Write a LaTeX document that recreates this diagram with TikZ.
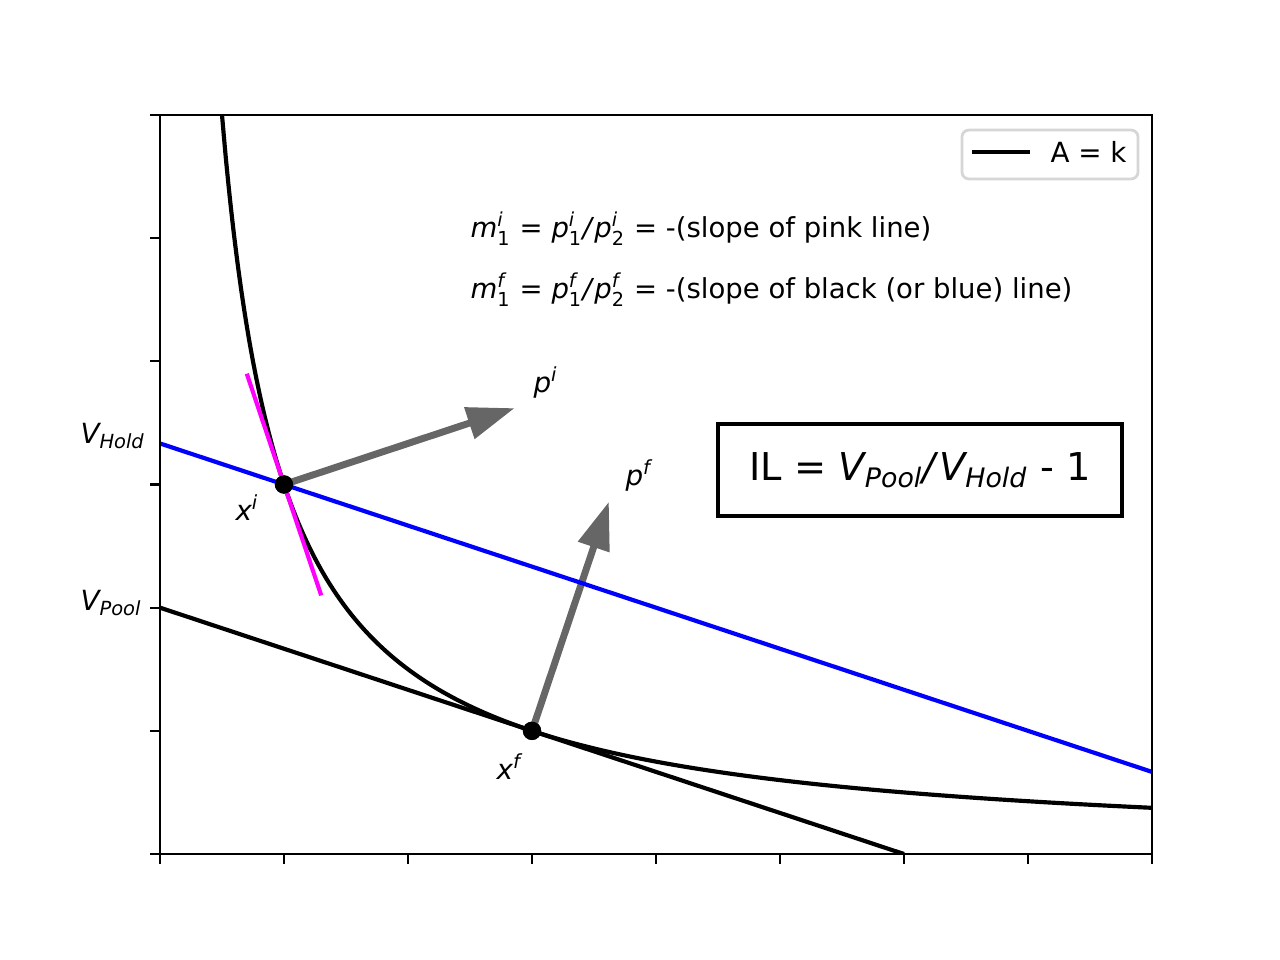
\documentclass[tikz,border=0pt]{standalone}
\usepackage{amsmath}
\usepackage{fontspec}
\setmainfont{DejaVu Sans}
\usetikzlibrary{arrows.meta}
\definecolor{arrowgray}{HTML}{666666}
\definecolor{pinkline}{HTML}{FF00FF}
\definecolor{legendedge}{HTML}{D6D6D6}
\newcommand\symb[3]{$\textit{#1}^{\textit{#2}}_{\text{#3}}$}
\newcommand\vsub[1]{$\textit{V}_{\textit{#1}}$}
\tikzset{
  spine/.style={line width=0.8pt, line cap=rect},
  tickmark/.style={line width=0.8pt},
  curveline/.style={line width=1.5pt, black},
  bluel/.style={line width=1.5pt, blue},
  blackl/.style={line width=1.5pt, black},
  pinkl/.style={line width=1.5pt, pinkline},
  pointdot/.style={circle, fill=black, inner sep=0pt, minimum size=6.6pt},
  parrow/.style={line width=2.5pt, arrowgray, -{Triangle[length=17.2pt,width=11.4pt]}},
  lbl/.style={anchor=base west, inner sep=0pt, font=\fontsize{10}{12}\selectfont},
  eqlbl/.style={anchor=base west, inner sep=0pt, font=\fontsize{9.9}{12}\selectfont},
}
\begin{document}
\begin{tikzpicture}[x=0.36pt, y=-0.36pt]
\useasboundingbox (0,0) rectangle (1280,960);
% data scope
\begin{scope}[shift={(160,854)}, x=44.64pt, y=44.34pt]
  \coordinate (pitip) at (2.86,3.62);
  \coordinate (pftip) at (3.62,2.86);
  \node[pointdot] (xi) at (1,3) {};
  \node[pointdot] (xf) at (3,1) {};
  \draw[parrow] (xi.center) -- (pitip);
  \draw[parrow] (xf.center) -- (pftip);
  \begin{scope}
    \clip (0,0) rectangle (8,6);
    \draw[curveline] plot[domain=0.5:8, samples=240, smooth] (\x, {3/\x});
    \coordinate (pk1) at (0.7,3.9);
    \coordinate (pk2) at (1.3,2.1);
    \draw[pinkl] (pk1) -- (pk2);
    \coordinate (bl1) at (0,10/3);
    \coordinate (bl2) at (8,2/3);
    \draw[bluel] (bl1) -- (bl2);
    \coordinate (tg1) at (0,2);
    \coordinate (tg2) at (6,0);
    \draw[blackl] (tg1) -- (tg2);
  \end{scope}
  \node[pointdot] at (xi) {};
  \node[pointdot] at (xf) {};
\end{scope}
% axes
\draw[spine] (160,115) rectangle (1152,854);
\foreach \i in {0,...,8} {
  \draw[tickmark] ({160+124*\i},854) -- ({160+124*\i},863.7);
}
\foreach \j in {0,...,6} {
  \draw[tickmark] (160,{854-123.1667*\j}) -- (150.3,{854-123.1667*\j});
}
% labels
\node[eqlbl] (eqi) at (470,237) {\symb{m}{i}{1} = \symb{p}{i}{1}\textit{/}\symb{p}{i}{2} = -(slope of pink line)};
\node[eqlbl] (eqf) at (470,298) {\symb{m}{f}{1} = \symb{p}{f}{1}\textit{/}\symb{p}{f}{2} = -(slope of black (or blue) line)};
\node[lbl] (vhold) at (80,443) {\vsub{Hold}};
\node[lbl] (vpool) at (80,610) {\vsub{Pool}};
\node[lbl] (lxi) at (235,520) {$\textit{x}^{\textit{i}}$};
\node[lbl] (lxf) at (496,779) {$\textit{x}^{\textit{f}}$};
\node[lbl] (lpi) at (533,392) {$\textit{p}^{\textit{i}}$};
\node[lbl] (lpf) at (625,485) {$\textit{p}^{\textit{f}}$};
% IL box
\node[draw=black, line width=1.2pt, fill=white, minimum width=145.4pt, minimum height=33.1pt, inner sep=0pt,
      font=\fontsize{13.8}{17}\selectfont] (ilbox) at (920,470)
  {IL = \vsub{Pool}\textit{/}\vsub{Hold} - 1};
% legend
\node[draw=legendedge, line width=1pt, fill=white, rounded corners=2.5pt, minimum width=63.4pt, minimum height=17.6pt, inner sep=0pt] (legend) at (1050,154.5) {};
\coordinate (lg1) at (972,152);
\coordinate (lg2) at (1030,152);
\draw[curveline] (lg1) -- (lg2);
\node[lbl] (lgtext) at (1050,162.5) {A = k};
\end{tikzpicture}
\end{document}
